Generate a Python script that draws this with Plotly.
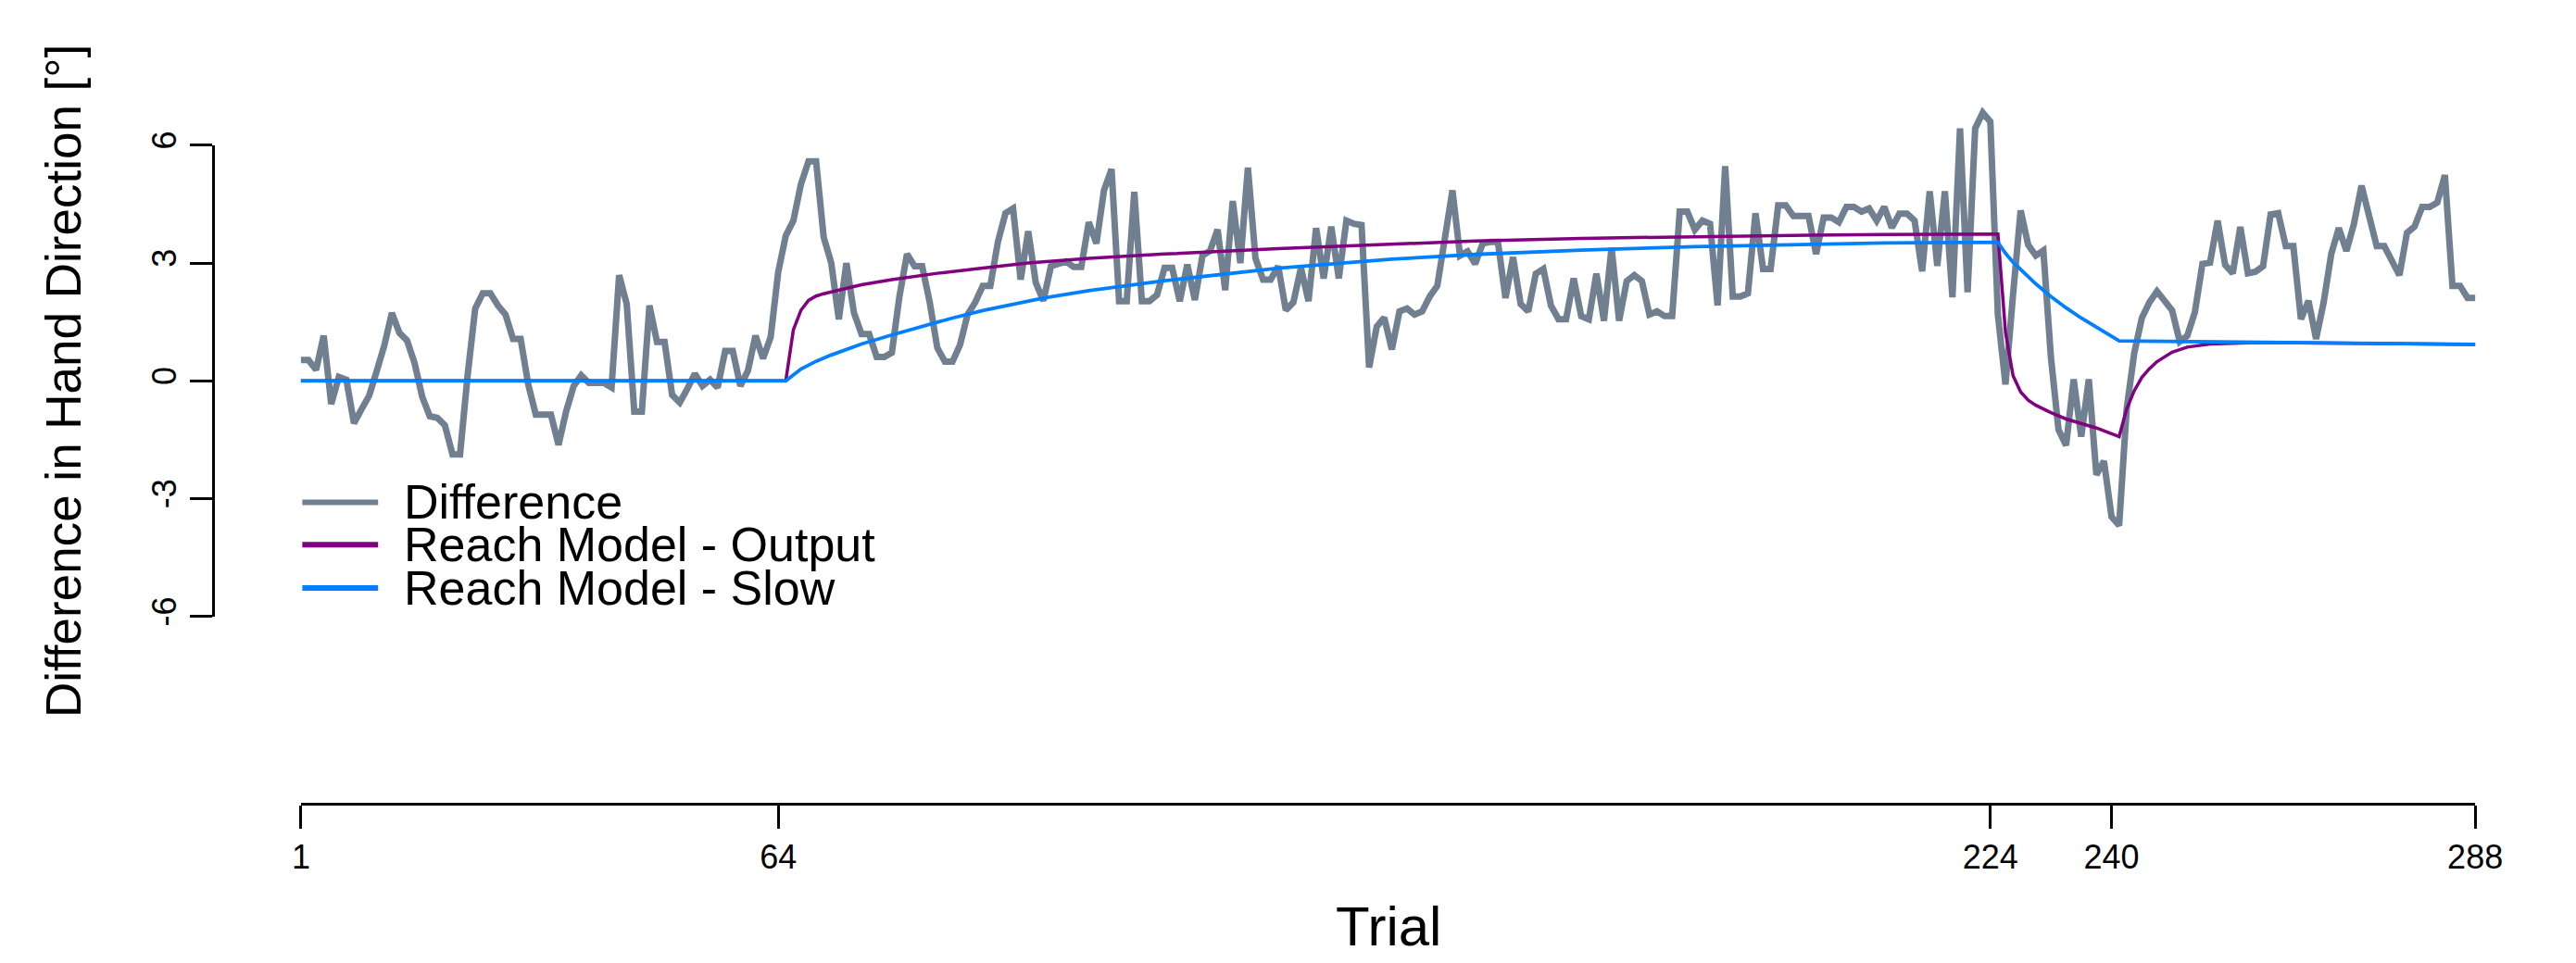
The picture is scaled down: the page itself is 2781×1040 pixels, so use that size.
import plotly.graph_objects as go

# ---- data -------------------------------------------------------------
trials = list(range(1, 289))

difference = [
    0.53, 0.53, 0.28, 1.15, -0.59, 0.10, 0.03, -1.08, -0.72, -0.38,
    0.25, 0.90, 1.73, 1.22, 1.03, 0.45, -0.40, -0.90, -0.94, -1.13,
    -1.87, -1.87, 0.14, 1.84, 2.23, 2.23, 1.92, 1.69, 1.07, 1.07,
    -0.09, -0.86, -0.86, -0.86, -1.63, -0.78, -0.13, 0.14, -0.05, -0.05,
    -0.05, -0.17, 2.69, 1.96, -0.78, -0.78, 1.92, 0.99, 0.99, -0.36,
    -0.55, -0.20, 0.18, -0.13, 0.03, -0.17, 0.76, 0.76, -0.13, 0.26,
    1.15, 0.57, 1.11, 2.77, 3.70, 4.08, 5.01, 5.59, 5.59, 3.66,
    3.00, 1.57, 3.00, 1.73, 1.19, 1.19, 0.61, 0.61, 0.72, 2.15,
    3.23, 2.92, 2.92, 2.00, 0.84, 0.49, 0.49, 0.92, 1.69, 2.00,
    2.42, 2.42, 3.54, 4.27, 4.39, 2.58, 3.81, 2.50, 2.04, 2.92,
    3.00, 3.04, 2.90, 2.90, 4.04, 3.50, 4.85, 5.39, 2.03, 2.03,
    4.81, 2.03, 2.03, 2.19, 2.88, 2.88, 2.03, 2.96, 2.06, 3.19,
    3.31, 3.85, 2.31, 4.58, 3.00, 5.43, 3.12, 2.58, 2.58, 2.92,
    1.80, 2.00, 2.88, 2.03, 3.89, 2.61, 3.93, 2.61, 4.08, 4.00,
    3.97, 0.34, 1.38, 1.61, 0.80, 1.77, 1.84, 1.69, 1.77, 2.15,
    2.42, 3.62, 4.85, 3.19, 3.30, 2.98, 3.50, 3.54, 3.54, 2.11,
    3.15, 1.96, 1.77, 2.73, 2.85, 1.92, 1.57, 1.57, 2.61, 1.65,
    1.57, 2.73, 1.53, 3.39, 1.53, 2.54, 2.69, 2.54, 1.69, 1.77,
    1.65, 1.65, 4.31, 4.31, 3.85, 4.08, 4.00, 1.92, 5.47, 2.15,
    2.15, 2.23, 4.27, 2.85, 2.85, 4.47, 4.47, 4.20, 4.20, 4.20,
    3.23, 4.16, 4.16, 4.04, 4.43, 4.43, 4.31, 4.39, 4.08, 4.43,
    3.90, 4.26, 4.26, 4.08, 2.79, 4.83, 2.93, 4.83, 2.13, 6.43,
    2.26, 6.43, 6.83, 6.60, 1.68, -0.09, 2.20, 4.34, 3.46, 3.19,
    3.32, 0.60, -1.24, -1.64, 0.04, -1.42, 0.04, -2.39, -2.04, -3.46,
    -3.68, -0.71, 0.71, 1.60, 2.00, 2.28, 2.04, 1.79, 1.00, 1.15,
    1.75, 2.98, 3.01, 4.08, 2.95, 2.74, 3.92, 2.74, 2.78, 2.92,
    4.24, 4.27, 3.43, 3.43, 1.57, 2.04, 1.07, 2.00, 3.23, 3.89,
    3.31, 4.00, 4.97, 4.16, 3.43, 3.43, 3.08, 2.69, 3.77, 3.93,
    4.43, 4.43, 4.54, 5.24, 2.42, 2.42, 2.11, 2.11,
]

output_trials = [1, 65, 66, 67, 68, 69, 70, 72, 75, 79, 85, 91, 97, 105, 115,
                 130, 145, 156, 170, 185, 200, 210, 225, 226, 227, 228, 229,
                 230, 232, 234, 236, 238, 241, 242, 243, 244, 245, 246, 248,
                 250, 253, 258, 265, 288]
output_values = [0, 0, 1.30, 1.80, 2.05, 2.16, 2.22, 2.32, 2.45, 2.58, 2.74,
                 2.87, 3.00, 3.12, 3.23, 3.37, 3.49, 3.56, 3.63, 3.68, 3.71,
                 3.73, 3.74, 1.24, 0.13, -0.28, -0.49, -0.62, -0.81, -0.97,
                 -1.08, -1.20, -1.42, -0.71, -0.25, 0.09, 0.31, 0.49, 0.73,
                 0.86, 0.94, 0.97, 0.97, 0.93]

slow_trials = [1, 65, 67, 69, 71, 75, 79, 83, 87, 91, 95, 99, 105, 115, 130,
               145, 156, 170, 185, 200, 210, 225, 226, 227, 228, 230, 232,
               234, 236, 238, 241, 260, 288]
slow_values = [0, 0, 0.30, 0.50, 0.66, 0.94, 1.17, 1.39, 1.60, 1.79, 1.96,
               2.11, 2.30, 2.55, 2.87, 3.10, 3.22, 3.33, 3.42, 3.48, 3.51,
               3.53, 3.25, 3.02, 2.83, 2.47, 2.15, 1.86, 1.60, 1.36, 1.02,
               0.98, 0.93]

x_ticks = [1, 64, 224, 240, 288]
y_ticks = [-6, -3, 0, 3, 6]

series_names = ["Difference", "Reach Model - Output", "Reach Model - Slow"]
series_colors = ["#708090", "#800080", "#0080ff"]
series_widths = [7, 3.5, 3.8]

# ---- page geometry (pixels) --------------------------------------------
W, H = 2781, 1040
X1_PX, X288_PX = 319.5, 2701.0       # horizontal positions of trial 1 and 288
Y0_PX, PX_PER_DEG = 406.5, 43.5      # vertical position of 0 deg and scale
XAXIS_PX = 875                       # baseline of the trial axis
YAXIS_PX = 223                       # position of the degree axis

px_per_trial = (X288_PX - X1_PX) / 287.0
data_xrange = [1 - X1_PX / px_per_trial, 1 + (W - X1_PX) / px_per_trial]
data_yrange = [-(H - Y0_PX) / PX_PER_DEG, Y0_PX / PX_PER_DEG]

FONT = "Liberation Sans, Arial, Helvetica, sans-serif"

fig = go.Figure()

fig.add_trace(go.Scatter(
    x=trials, y=difference, mode="lines", name=series_names[0],
    line=dict(color=series_colors[0], width=series_widths[0]), showlegend=False,
))
fig.add_trace(go.Scatter(
    x=output_trials, y=output_values, mode="lines", name=series_names[1],
    line=dict(color=series_colors[1], width=series_widths[1]), showlegend=False,
))
fig.add_trace(go.Scatter(
    x=slow_trials, y=slow_values, mode="lines", name=series_names[2],
    line=dict(color=series_colors[2], width=series_widths[2]), showlegend=False,
))
# anchor trace so the visible (detached) axes get drawn
fig.add_trace(go.Scatter(
    x=[x_ticks[0]], y=[y_ticks[0]], xaxis="x2", yaxis="y2", mode="markers",
    marker=dict(opacity=0), hoverinfo="skip", showlegend=False,
))

axis_common = dict(showgrid=False, zeroline=False, color="black",
                   linecolor="black", tickcolor="black", linewidth=3,
                   tickwidth=3, ticks="outside", showline=True,
                   tickfont=dict(family=FONT, size=36, color="black"))

fig.update_layout(
    width=W, height=H,
    margin=dict(l=0, r=0, t=0, b=0),
    paper_bgcolor="white", plot_bgcolor="rgba(0,0,0,0)",
    showlegend=False,
    xaxis=dict(domain=[0, 1], range=data_xrange, visible=False),
    yaxis=dict(domain=[0, 1], range=data_yrange, visible=False),
    xaxis2=dict(
        domain=[X1_PX / W, X288_PX / W], range=[1, 288],
        anchor="free", position=1 - XAXIS_PX / H,
        tickvals=x_ticks, ticktext=[str(v) for v in x_ticks], ticklen=25,
        **axis_common,
    ),
    yaxis2=dict(
        domain=[1 - (Y0_PX + 6 * PX_PER_DEG) / H, 1 - (Y0_PX - 6 * PX_PER_DEG) / H],
        range=[-6, 6], anchor="free", position=YAXIS_PX / W,
        tickvals=y_ticks, ticktext=[str(v) for v in y_ticks], ticklen=24,
        tickangle=-90,
        **axis_common,
    ),
)

# axis titles
fig.add_annotation(
    text="Trial", xref="paper", yref="paper",
    x=(X1_PX + X288_PX) / 2 / W, y=1 - 1011 / H, xanchor="center", yanchor="middle",
    showarrow=False, font=dict(family=FONT, size=60, color="black"),
)
fig.add_annotation(
    text="Difference in Hand Direction [°]", xref="paper", yref="paper",
    x=60 / W, y=1 - 407 / H, xanchor="center", yanchor="middle", textangle=-90,
    showarrow=False, font=dict(family=FONT, size=53, color="black"),
)

# legend
legend_rows_px = [541, 588, 636]
for name, color, row in zip(series_names, series_colors, legend_rows_px):
    fig.add_shape(
        type="line", xref="paper", yref="paper",
        x0=321 / W, x1=404 / W, y0=1 - row / H, y1=1 - row / H,
        line=dict(color=color, width=6),
    )
    fig.add_annotation(
        text=name, xref="paper", yref="paper", x=430 / W, y=1 - row / H,
        xanchor="left", yanchor="middle", showarrow=False,
        font=dict(family=FONT, size=52, color="black"),
    )

fig.write_html("out.html")
